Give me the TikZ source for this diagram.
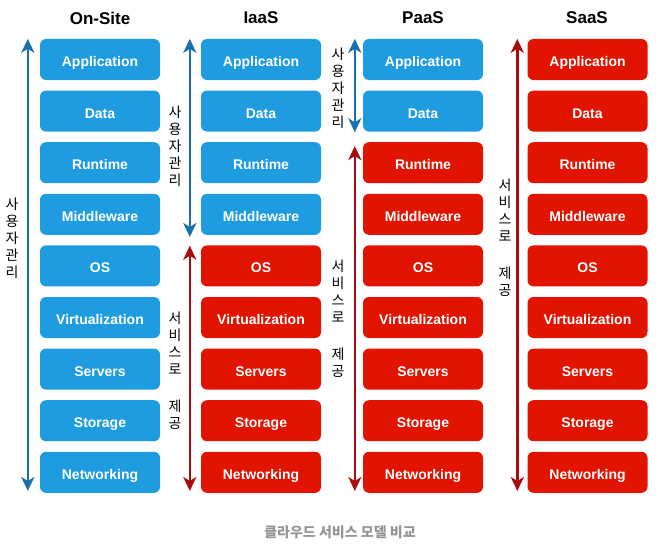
\documentclass[tikz,border=0pt]{standalone}
\usepackage{fontspec}
\setmainfont{Liberation Sans}
\newfontfamily\kofont{Noto Sans CJK KR}
\usetikzlibrary{arrows.meta}
\usetikzlibrary{calc}

\definecolor{userblue}{HTML}{1E9CDF}
\definecolor{vendorred}{HTML}{E01400}
\definecolor{userline}{HTML}{1A6FAE}
\definecolor{vendorline}{HTML}{A80C0C}
\definecolor{captiongray}{HTML}{959595}

\tikzset{
    layerbox/.style = {rounded corners=6pt, minimum width=120pt, minimum height=41pt, inner sep=0pt,
        text height=14pt, text depth=0pt, text=white, font=\bfseries\fontsize{14}{16}\selectfont},
    usedbox/.style = {layerbox, fill=userblue},
    givenbox/.style = {layerbox, fill=vendorred},
    heading/.style = {font=\bfseries\fontsize{17}{20}\selectfont},
    sidelabel/.style = {font=\kofont\fontsize{14}{17}\selectfont, align=center, inner sep=0pt},
    tips/.style = {{Stealth[length=14pt, width=13pt, inset=4pt]}-{Stealth[length=14pt, width=13pt, inset=4pt]}},
    userarrow/.style = {tips, draw=userline, line width=2.5pt},
    vendorarrow/.style = {tips, draw=vendorline, line width=2.5pt},
}

\begin{document}
\begin{tikzpicture}[x=1pt, y=-1pt]
    \useasboundingbox (0,0) rectangle (668,551);

    % Column titles
        \node[heading] (onTitle) at (100,18) {On-Site};
        \node[heading] (iaTitle) at (261,18) {IaaS};
        \node[heading] (paTitle) at (423,18) {PaaS};
        \node[heading] (saTitle) at (587,18) {SaaS};

    % On-Site: everything is ours
        \node[usedbox] (on1) at (100,59.5) {Application};
        \node[usedbox] (on2) at (100,111.1) {Data};
        \node[usedbox] (on3) at (100,162.7) {Runtime};
        \node[usedbox] (on4) at (100,214.3) {Middleware};
        \node[usedbox] (on5) at (100,265.9) {OS};
        \node[usedbox] (on6) at (100,317.5) {Virtualization};
        \node[usedbox] (on7) at (100,369.1) {Servers};
        \node[usedbox] (on8) at (100,420.7) {Storage};
        \node[usedbox] (on9) at (100,472.3) {Networking};

    % IaaS
        \node[usedbox] (ia1) at (261,59.5) {Application};
        \node[usedbox] (ia2) at (261,111.1) {Data};
        \node[usedbox] (ia3) at (261,162.7) {Runtime};
        \node[usedbox] (ia4) at (261,214.3) {Middleware};
        \node[givenbox] (ia5) at (261,265.9) {OS};
        \node[givenbox] (ia6) at (261,317.5) {Virtualization};
        \node[givenbox] (ia7) at (261,369.1) {Servers};
        \node[givenbox] (ia8) at (261,420.7) {Storage};
        \node[givenbox] (ia9) at (261,472.3) {Networking};

    % PaaS
        \node[usedbox] (pa1) at (423,59.5) {Application};
        \node[usedbox] (pa2) at (423,111.1) {Data};
        \node[givenbox] (pa3) at (423,162.7) {Runtime};
        \node[givenbox] (pa4) at (423,214.3) {Middleware};
        \node[givenbox] (pa5) at (423,265.9) {OS};
        \node[givenbox] (pa6) at (423,317.5) {Virtualization};
        \node[givenbox] (pa7) at (423,369.1) {Servers};
        \node[givenbox] (pa8) at (423,420.7) {Storage};
        \node[givenbox] (pa9) at (423,472.3) {Networking};

    % SaaS: everything is provided
        \node[givenbox] (sa1) at (587.5,59.5) {Application};
        \node[givenbox] (sa2) at (587.5,111.1) {Data};
        \node[givenbox] (sa3) at (587.5,162.7) {Runtime};
        \node[givenbox] (sa4) at (587.5,214.3) {Middleware};
        \node[givenbox] (sa5) at (587.5,265.9) {OS};
        \node[givenbox] (sa6) at (587.5,317.5) {Virtualization};
        \node[givenbox] (sa7) at (587.5,369.1) {Servers};
        \node[givenbox] (sa8) at (587.5,420.7) {Storage};
        \node[givenbox] (sa9) at (587.5,472.3) {Networking};

    % Arrow ends
        \coordinate (onTop) at ($(on1.north west) + (-12,0)$);
        \coordinate (onBot) at ($(on9.south west) + (-12,-2)$);
        \coordinate (iaUserTop) at ($(ia1.north west) + (-11,0)$);
        \coordinate (iaUserBot) at ($(ia4.south west) + (-11,2)$);
        \coordinate (iaGivenTop) at ($(ia5.north west) + (-11,0.5)$);
        \coordinate (iaGivenBot) at ($(ia9.south west) + (-11,-2)$);
        \coordinate (paUserTop) at ($(pa1.north west) + (-8,0)$);
        \coordinate (paUserBot) at ($(pa2.south west) + (-8,0.5)$);
        \coordinate (paGivenTop) at ($(pa3.north west) + (-8,4)$);
        \coordinate (paGivenBot) at ($(pa9.south west) + (-8,-2)$);
        \coordinate (saTop) at ($(sa1.north west) + (-10,0)$);
        \coordinate (saBot) at ($(sa9.south west) + (-10,-2)$);

    % Arrows
        \draw[userarrow] (onTop) -- (onBot);
        \draw[userarrow] (iaUserTop) -- (iaUserBot);
        \draw[vendorarrow] (iaGivenTop) -- (iaGivenBot);
        \draw[userarrow] (paUserTop) -- (paUserBot);
        \draw[vendorarrow] (paGivenTop) -- (paGivenBot);
        \draw[vendorarrow] (saTop) -- (saBot);

    % Side labels
        \node[sidelabel] (onUser) at (12,238) {사\\용\\자\\관\\리};
        \node[sidelabel] (iaUser) at (175,146) {사\\용\\자\\관\\리};
        \node[sidelabel] (iaGiven) at (175,371) {서\\비\\스\\로\\[3pt]~\\제\\공};
        \node[sidelabel] (paUser) at (338,88) {사\\용\\자\\관\\리};
        \node[sidelabel] (paGiven) at (338,319) {서\\비\\스\\로\\[3pt]~\\제\\공};
        \node[sidelabel] (saGiven) at (505,238) {서\\비\\스\\로\\[3pt]~\\제\\공};

    % Caption
        \node[font=\kofont\bfseries\fontsize{14}{16}\selectfont, text=captiongray] (caption) at (340,532) {클라우드 서비스 모델 비교};
    \end{tikzpicture}
\end{document}
